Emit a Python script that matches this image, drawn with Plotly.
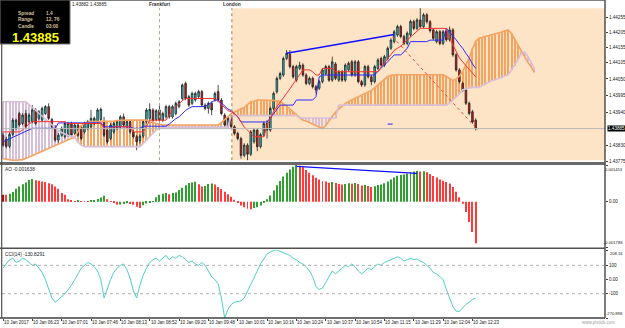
import plotly.graph_objects as go

# ---------------- data ----------------
open_ = [1.43863, 1.43850, 1.43826, 1.43866, 1.43886, 1.43935, 1.43902, 1.43935, 1.43908, 1.43908,
         1.43947, 1.43919, 1.43913, 1.43935, 1.43958, 1.43915, 1.43891, 1.43847, 1.43863, 1.43858,
         1.43863, 1.43902, 1.43869, 1.43897, 1.43891, 1.43874, 1.43886, 1.43891, 1.43902, 1.43908,
         1.43915, 1.43908, 1.43880, 1.43852, 1.43874, 1.43886, 1.43891, 1.43924, 1.43891, 1.43908,
         1.43874, 1.43858, 1.43845, 1.43860, 1.43908, 1.43919, 1.43947, 1.43915, 1.43947, 1.43913,
         1.43924, 1.43958, 1.43924, 1.43935, 1.43958, 1.43985, 1.44035, 1.43991, 1.43969, 1.43980,
         1.43991, 1.44008, 1.43963, 1.43952, 1.43969, 1.43980, 1.44008, 1.43980, 1.43930, 1.43891,
         1.43924, 1.43891, 1.43869, 1.43852, 1.43796, 1.43830, 1.43800, 1.43841, 1.43880, 1.43825,
         1.43863, 1.43902, 1.43880, 1.43952, 1.44007, 1.44052, 1.44063, 1.44118, 1.44132, 1.44091,
         1.44046, 1.44085, 1.44096, 1.44063, 1.44035, 1.44052, 1.44024, 1.44019, 1.44041, 1.44068,
         1.44091, 1.44046, 1.44100, 1.44046, 1.44074, 1.44046, 1.44080, 1.44107, 1.44063, 1.44107,
         1.44041, 1.44030, 1.44091, 1.44057, 1.44041, 1.44085, 1.44118, 1.44096, 1.44118, 1.44152,
         1.44174, 1.44196, 1.44224, 1.44191, 1.44168, 1.44196, 1.44241, 1.44218, 1.44246, 1.44224,
         1.44263, 1.44240, 1.44213, 1.44174, 1.44207, 1.44168, 1.44207, 1.44180, 1.44213, 1.44130,
         1.44080, 1.44035, 1.44013, 1.43969, 1.43941, 1.43913]
high_ = [1.43872, 1.43858, 1.43872, 1.43920, 1.43918, 1.43941, 1.43936, 1.43947, 1.43936, 1.43963,
         1.43953, 1.43947, 1.43958, 1.43963, 1.43969, 1.43921, 1.43897, 1.43870, 1.43892, 1.43908,
         1.43908, 1.43908, 1.43903, 1.43903, 1.43897, 1.43908, 1.43914, 1.43947, 1.43925, 1.43953,
         1.43955, 1.43924, 1.43886, 1.43903, 1.43908, 1.43914, 1.43930, 1.43935, 1.43914, 1.43914,
         1.43880, 1.43864, 1.43866, 1.43914, 1.43953, 1.43969, 1.43953, 1.43950, 1.43969, 1.43941,
         1.43964, 1.43964, 1.43964, 1.43975, 1.43980, 1.44035, 1.44041, 1.43997, 1.44008, 1.44008,
         1.44014, 1.44014, 1.43969, 1.43975, 1.43975, 1.44008, 1.44030, 1.43986, 1.43936, 1.43925,
         1.43930, 1.43897, 1.43875, 1.43858, 1.43836, 1.43836, 1.43880, 1.43886, 1.43886, 1.43871,
         1.43908, 1.43913, 1.43958, 1.44008, 1.44058, 1.44074, 1.44124, 1.44146, 1.44146, 1.44097,
         1.44097, 1.44107, 1.44102, 1.44069, 1.44058, 1.44058, 1.44030, 1.44047, 1.44086, 1.44097,
         1.44097, 1.44124, 1.44106, 1.44080, 1.44080, 1.44102, 1.44108, 1.44113, 1.44113, 1.44113,
         1.44047, 1.44097, 1.44097, 1.44063, 1.44097, 1.44119, 1.44124, 1.44130, 1.44158, 1.44185,
         1.44213, 1.44230, 1.44230, 1.44197, 1.44208, 1.44247, 1.44247, 1.44252, 1.44285, 1.44269,
         1.44269, 1.44246, 1.44219, 1.44213, 1.44213, 1.44213, 1.44213, 1.44224, 1.44219, 1.44136,
         1.44086, 1.44041, 1.44019, 1.43975, 1.43947, 1.43919]
low_ = [1.43824, 1.43819, 1.43820, 1.43860, 1.43880, 1.43891, 1.43896, 1.43885, 1.43902, 1.43902,
        1.43896, 1.43913, 1.43908, 1.43930, 1.43913, 1.43885, 1.43841, 1.43838, 1.43858, 1.43852,
        1.43858, 1.43858, 1.43863, 1.43858, 1.43846, 1.43868, 1.43880, 1.43885, 1.43896, 1.43902,
        1.43909, 1.43857, 1.43835, 1.43846, 1.43868, 1.43880, 1.43885, 1.43891, 1.43885, 1.43868,
        1.43852, 1.43813, 1.43835, 1.43854, 1.43902, 1.43913, 1.43907, 1.43909, 1.43907, 1.43907,
        1.43918, 1.43918, 1.43918, 1.43929, 1.43952, 1.43979, 1.43979, 1.43957, 1.43963, 1.43974,
        1.43985, 1.43957, 1.43946, 1.43935, 1.43930, 1.43974, 1.43974, 1.43929, 1.43891, 1.43885,
        1.43885, 1.43863, 1.43846, 1.43785, 1.43790, 1.43780, 1.43794, 1.43835, 1.43810, 1.43819,
        1.43857, 1.43852, 1.43874, 1.43946, 1.44001, 1.44046, 1.44057, 1.44112, 1.44085, 1.44051,
        1.44040, 1.44079, 1.44057, 1.44029, 1.44029, 1.44018, 1.44002, 1.44013, 1.44035, 1.44062,
        1.44040, 1.44040, 1.44046, 1.44040, 1.44040, 1.44040, 1.44074, 1.44057, 1.44057, 1.44035,
        1.44024, 1.44024, 1.44051, 1.44029, 1.44035, 1.44079, 1.44090, 1.44090, 1.44112, 1.44146,
        1.44168, 1.44190, 1.44185, 1.44162, 1.44162, 1.44190, 1.44212, 1.44212, 1.44218, 1.44218,
        1.44234, 1.44204, 1.44179, 1.44168, 1.44162, 1.44162, 1.44174, 1.44174, 1.44124, 1.44074,
        1.44035, 1.44007, 1.43963, 1.43929, 1.43901, 1.43879]
close_ = [1.43830, 1.43826, 1.43866, 1.43913, 1.43913, 1.43897, 1.43930, 1.43891, 1.43930, 1.43947,
          1.43902, 1.43941, 1.43952, 1.43958, 1.43919, 1.43891, 1.43847, 1.43863, 1.43886, 1.43902,
          1.43902, 1.43863, 1.43897, 1.43863, 1.43852, 1.43902, 1.43908, 1.43919, 1.43919, 1.43947,
          1.43949, 1.43863, 1.43841, 1.43897, 1.43902, 1.43908, 1.43924, 1.43897, 1.43908, 1.43874,
          1.43858, 1.43841, 1.43860, 1.43908, 1.43947, 1.43949, 1.43913, 1.43944, 1.43913, 1.43935,
          1.43958, 1.43924, 1.43958, 1.43969, 1.43974, 1.44030, 1.43985, 1.43963, 1.44002, 1.44002,
          1.44008, 1.43963, 1.43952, 1.43969, 1.43947, 1.44002, 1.43980, 1.43935, 1.43897, 1.43919,
          1.43891, 1.43869, 1.43852, 1.43796, 1.43830, 1.43800, 1.43874, 1.43880, 1.43825, 1.43865,
          1.43902, 1.43880, 1.43952, 1.44002, 1.44052, 1.44068, 1.44118, 1.44135, 1.44091, 1.44057,
          1.44091, 1.44096, 1.44063, 1.44035, 1.44052, 1.44024, 1.44013, 1.44041, 1.44080, 1.44091,
          1.44046, 1.44107, 1.44052, 1.44074, 1.44046, 1.44096, 1.44102, 1.44063, 1.44107, 1.44041,
          1.44030, 1.44091, 1.44057, 1.44041, 1.44091, 1.44113, 1.44096, 1.44124, 1.44152, 1.44179,
          1.44207, 1.44224, 1.44191, 1.44168, 1.44202, 1.44241, 1.44218, 1.44246, 1.44224, 1.44263,
          1.44240, 1.44210, 1.44185, 1.44207, 1.44168, 1.44207, 1.44180, 1.44213, 1.44130, 1.44080,
          1.44041, 1.44013, 1.43969, 1.43935, 1.43907, 1.43885]

tenkan = [1.43874, 1.43874, 1.43874, 1.43874, 1.43874, 1.43874, 1.43880, 1.43891, 1.43900,
          1.43908, 1.43908, 1.43908, 1.43908, 1.43908, 1.43908, 1.43908, 1.43908, 1.43908, 1.43908, 1.43908,
          1.43902, 1.43902, 1.43902, 1.43902, 1.43902, 1.43902, 1.43902, 1.43902, 1.43902, 1.43902, 1.43902,
          1.43886, 1.43886, 1.43886, 1.43891, 1.43891, 1.43891, 1.43891, 1.43891, 1.43891,
          1.43874, 1.43874, 1.43874, 1.43874, 1.43890,
          1.43913, 1.43913, 1.43913, 1.43913, 1.43913, 1.43913,
          1.43930, 1.43947, 1.43958, 1.43969, 1.43978,
          1.43985, 1.43985, 1.43985, 1.43985, 1.43985, 1.43985, 1.43985, 1.43985, 1.43985, 1.43985,
          1.43975, 1.43965, 1.43955, 1.43945, 1.43941, 1.43935, 1.43925, 1.43905, 1.43890, 1.43880, 1.43870,
          1.43858, 1.43858, 1.43858, 1.43858,
          1.43896, 1.43920, 1.43941, 1.43958, 1.43974, 1.43988, 1.44002, 1.44017, 1.44032, 1.44046, 1.44063,
          1.44080, 1.44080, 1.44080, 1.44074, 1.44063, 1.44063,
          1.44085, 1.44085, 1.44085, 1.44085,
          1.44074, 1.44074, 1.44074, 1.44074, 1.44074, 1.44074, 1.44074, 1.44074, 1.44074, 1.44074,
          1.44074, 1.44074, 1.44074, 1.44074,
          1.44090, 1.44102, 1.44118, 1.44130, 1.44145, 1.44152, 1.44158, 1.44170, 1.44180, 1.44190,
          1.44200, 1.44210,
          1.44218, 1.44218, 1.44218, 1.44218, 1.44218, 1.44218, 1.44218, 1.44218, 1.44218,
          1.44185, 1.44163, 1.44140, 1.44120, 1.44107, 1.44095, 1.44082, 1.44070, 1.44057]
kijun = [1.43841, 1.43846, 1.43852, 1.43858, 1.43863, 1.43868, 1.43872, 1.43877, 1.43881, 1.43886,
         1.43886, 1.43886, 1.43886, 1.43886, 1.43886, 1.43886, 1.43886,
         1.43904, 1.43904, 1.43904, 1.43904, 1.43904, 1.43904, 1.43904, 1.43904, 1.43904, 1.43904,
         1.43904, 1.43904, 1.43904, 1.43904,
         1.43891, 1.43891, 1.43891, 1.43891, 1.43891, 1.43891, 1.43891, 1.43891, 1.43891,
         1.43886, 1.43886, 1.43886,
         1.43893, 1.43893, 1.43893, 1.43893, 1.43893, 1.43893, 1.43893, 1.43893,
         1.43900, 1.43910, 1.43918, 1.43924, 1.43935, 1.43945, 1.43952,
         1.43958, 1.43958, 1.43958, 1.43958, 1.43958,
         1.43965, 1.43972, 1.43980, 1.43980,
         1.43970, 1.43958, 1.43950, 1.43945, 1.43935, 1.43924,
         1.43907, 1.43907, 1.43907, 1.43907, 1.43907, 1.43907, 1.43907, 1.43907, 1.43907,
         1.43920, 1.43935, 1.43950,
         1.43963, 1.43963, 1.43963, 1.43963, 1.43963,
         1.43980, 1.43980, 1.43980, 1.43980, 1.43980, 1.43980,
         1.43991, 1.44057,
         1.44063, 1.44063, 1.44063, 1.44063, 1.44063, 1.44063, 1.44063, 1.44063, 1.44063, 1.44063,
         1.44063, 1.44063, 1.44063, 1.44063, 1.44063, 1.44063, 1.44063,
         1.44075, 1.44085, 1.44095, 1.44105, 1.44118,
         1.44130, 1.44130, 1.44130, 1.44140, 1.44152,
         1.44174, 1.44174, 1.44174, 1.44174, 1.44174, 1.44174,
         1.44179, 1.44179, 1.44179, 1.44179, 1.44179,
         1.44218, 1.44205, 1.44195, 1.44180, 1.44165, 1.44152, 1.44135, 1.44120, 1.44100, 1.44085]
span_a = [1.43785, 1.43783, 1.43780, 1.43780, 1.43780, 1.43780,
          1.43782, 1.43786, 1.43790, 1.43795, 1.43800, 1.43805, 1.43810, 1.43815, 1.43820, 1.43825,
          1.43830, 1.43835, 1.43840, 1.43844, 1.43848, 1.43852, 1.43855,
          1.43875, 1.43895,
          1.43902, 1.43905, 1.43908, 1.43908, 1.43908, 1.43908, 1.43908, 1.43908, 1.43908, 1.43910, 1.43912,
          1.43913, 1.43913, 1.43913, 1.43913, 1.43913, 1.43913, 1.43913, 1.43913, 1.43913,
          1.43908, 1.43905, 1.43902, 1.43900,
          1.43897, 1.43897, 1.43897, 1.43897, 1.43897, 1.43897, 1.43897, 1.43897, 1.43897,
          1.43897, 1.43897, 1.43897, 1.43897, 1.43897, 1.43897, 1.43897, 1.43897, 1.43897,
          1.43905, 1.43915, 1.43925, 1.43935,
          1.43940, 1.43945, 1.43950, 1.43955, 1.43965, 1.43974,
          1.43976, 1.43980, 1.43980, 1.43980, 1.43980, 1.43980, 1.43980,
          1.43978, 1.43975, 1.43968, 1.43960,
          1.43950, 1.43940, 1.43930, 1.43920, 1.43913, 1.43910, 1.43905, 1.43900, 1.43893, 1.43888, 1.43885,
          1.43895, 1.43910, 1.43925, 1.43940, 1.43950, 1.43960, 1.43968,
          1.43975, 1.43980, 1.43985, 1.43990, 1.43995, 1.44000, 1.44005, 1.44012, 1.44020, 1.44030,
          1.44040, 1.44050, 1.44058, 1.44062,
          1.44064, 1.44064, 1.44064, 1.44064, 1.44064, 1.44064, 1.44064, 1.44064,
          1.44064, 1.44064, 1.44064, 1.44064, 1.44064, 1.44064, 1.44064, 1.44064,
          1.44058, 1.44050, 1.44045, 1.44050, 1.44060,
          1.44075, 1.44095, 1.44120, 1.44150, 1.44175, 1.44185, 1.44188, 1.44190, 1.44192, 1.44195,
          1.44198, 1.44202, 1.44206, 1.44210, 1.44213,
          1.44200, 1.44180, 1.44160, 1.44140, 1.44125, 1.44105, 1.44090, 1.44072]
span_b = [1.43974, 1.43974, 1.43974, 1.43974, 1.43974, 1.43974, 1.43974, 1.43974,
          1.43965, 1.43955, 1.43945, 1.43935, 1.43925, 1.43915, 1.43905, 1.43895, 1.43885, 1.43878,
          1.43872, 1.43866, 1.43862, 1.43860, 1.43858,
          1.43840, 1.43830,
          1.43825, 1.43825, 1.43825, 1.43825, 1.43825, 1.43825, 1.43825, 1.43825, 1.43825,
          1.43825, 1.43825, 1.43825, 1.43825, 1.43825, 1.43825, 1.43825, 1.43825, 1.43825,
          1.43835, 1.43845, 1.43858, 1.43870, 1.43880, 1.43886,
          1.43890, 1.43890, 1.43890, 1.43890, 1.43890, 1.43890, 1.43890, 1.43890, 1.43890, 1.43890,
          1.43890, 1.43890, 1.43890, 1.43890, 1.43890, 1.43890, 1.43890, 1.43890, 1.43890, 1.43890, 1.43890,
          1.43928, 1.43928, 1.43928, 1.43928, 1.43928, 1.43928, 1.43928, 1.43928, 1.43928, 1.43928,
          1.43928, 1.43928, 1.43928, 1.43928, 1.43928, 1.43928, 1.43928, 1.43928, 1.43928, 1.43928, 1.43928,
          1.43920, 1.43920, 1.43920, 1.43920, 1.43920, 1.43920, 1.43920, 1.43920, 1.43920, 1.43920,
          1.43920, 1.43920,
          1.43963, 1.43963, 1.43963, 1.43963, 1.43963, 1.43963, 1.43963, 1.43963, 1.43963, 1.43963,
          1.43963, 1.43963, 1.43963, 1.43963, 1.43963, 1.43963, 1.43963, 1.43963, 1.43963, 1.43963,
          1.43963, 1.43963, 1.43963, 1.43963, 1.43963, 1.43963, 1.43963, 1.43963, 1.43963, 1.43963,
          1.43963, 1.43963, 1.43963, 1.43963,
          1.43970, 1.43980, 1.43990, 1.44000, 1.44014,
          1.44018, 1.44020, 1.44022, 1.44022, 1.44022,
          1.44028, 1.44034, 1.44040, 1.44044, 1.44047,
          1.44052, 1.44056, 1.44060, 1.44064,
          1.44080, 1.44095, 1.44115, 1.44136, 1.44140, 1.44125, 1.44105, 1.44085]

ao = [0.00028, 0.00028, 0.00032, 0.00039, 0.00051, 0.00060, 0.00069, 0.00076, 0.00086, 0.00090,
      0.00085, 0.00083, 0.00080, 0.00078, 0.00073, 0.00069, 0.00060, 0.00051, 0.00035, 0.00028,
      0.00010, 0.00004, 0.00001, 0.00004, 0.00003, 0.00002, 0.00001, 0.00004, 0.00007, 0.00011,
      0.00017, 0.00024, 0.00010, 0.00001, -0.00005, -0.00012, -0.00011, -0.00009, -0.00006, -0.00009,
      -0.00012, -0.00020, -0.00025, -0.00014, -0.00007, -0.00004, 0.00003, 0.00018, 0.00028, 0.00032,
      0.00035, 0.00030, 0.00035, 0.00037, 0.00046, 0.00055, 0.00065, 0.00074, 0.00076, 0.00079,
      0.00069, 0.00060, 0.00062, 0.00070, 0.00072, 0.00068, 0.00058, 0.00050, 0.00040, 0.00030,
      0.00020, 0.00008, -0.00004, -0.00015, -0.00022, -0.00028, -0.00030, -0.00025, -0.00022, -0.00015,
      -0.00005, 0.00010, 0.00025, 0.00045, 0.00065, 0.00082, 0.00100, 0.00115, 0.00128, 0.00138,
      0.00145, 0.00142, 0.00136, 0.00126, 0.00115, 0.00105, 0.00095, 0.00088, 0.00082, 0.00080,
      0.00075, 0.00078, 0.00074, 0.00070, 0.00068, 0.00070, 0.00073, 0.00071, 0.00074, 0.00070,
      0.00064, 0.00066, 0.00062, 0.00058, 0.00061, 0.00066, 0.00068, 0.00073, 0.00080, 0.00088,
      0.00096, 0.00103, 0.00106, 0.00108, 0.00112, 0.00118, 0.00120, 0.00122, 0.00120, 0.00121,
      0.00117, 0.00110, 0.00102, 0.00096, 0.00088, 0.00083, 0.00078, 0.00072, 0.00058, 0.00040,
      0.00018, -0.00008, -0.00040, -0.00080, -0.00120, -0.001638]
cci = [80, 110, 140, 150, 120, 130, 150, 140, 120, 100, 110, 80, 50,
       0, -60, -130, -160, -140, -120, -100, -70, -40, 0, 40, 80, 100, 120, 110, 90, 60,
       0, -130, -60, 0, 50, 80, 100, 110, 70, 10, -80, -130, -40, 30, 80, 120,
       140, 150, 130, 150, 170, 140, 160, 150, 170, 160, 140, 120, 130, 110, 100, 120, 100, 60, 20, 0,
       -30, -130, -270.898, -210, -175, -160, -155, -150, -130, -85, -40, 10, 60, 110, 150, 180, 195, 205, 208.16,
       200, 190, 180, 170, 150, 140, 120, 110, 90, 60, 20, -50, -70, -60, -20, 20, 60, 40, 60, 80,
       100, 90, 110, 90, 60, 40, 60, 80, 70, 90, 110, 100, 120, 130, 140, 150, 160, 150, 130, 140,
       150, 140, 145, 130, 120, 100, 80, 50, 40, 20, 0, -70, -135, -190, -224, -224, -200, -175, -160, -140,
       -130.8291]

time_labels = ["10 Jan 2017", "10 Jan 06:23", "10 Jan 07:01", "10 Jan 07:46", "10 Jan 08:13",
               "10 Jan 08:52", "10 Jan 09:20", "10 Jan 09:48", "10 Jan 10:01", "10 Jan 10:16",
               "10 Jan 10:24", "10 Jan 10:37", "10 Jan 10:54", "10 Jan 11:15", "10 Jan 11:29",
               "10 Jan 12:04", "10 Jan 12:23"]
time_label_bar = [0, 9, 18, 27, 36, 45, 54, 63, 72, 81, 90, 99, 108, 117, 126, 135, 144]

price_ticks = [1.44255, 1.44205, 1.44155, 1.44105, 1.44050, 1.43995, 1.43940, 1.43830, 1.43775]
ao_max, ao_min = 0.001453, -0.001788
cci_max, cci_min = 208.16, -270.898
cci_levels = [100, 0, -100]
cci_level_text = ["100", "0.00", "-100"]

bid = 1.43885
prev_bid = 1.43882
frankfurt_bar = 48
london_bar = 70.2
trend_up_bar = [87, 120]
trend_up_price = [1.44135, 1.44198]
trend_dn_bar = [119.5, 145.7]
trend_dn_price = [1.44190, 1.43880]
mark_bar = [118, 119.5]
mark_price = [1.43900, 1.43900]
ao_trend_bar = [90, 127]
ao_trend_val = [0.00140, 0.00112]

# ---------------- layout geometry ----------------
W, H = 625, 328
ML, MR, MT, MB = 2, 20, 0, 10
PW = W - ML - MR
PH = H - MT - MB


def pxx(x):
    return (x - ML) / PW


def pyy(y):
    return (PH + MT - y) / PH


XR = [-0.307, 184.66]
FONT = "Liberation Sans, Arial, sans-serif"

n = len(close_)
idx = list(range(n))
nc = min(len(span_a), len(span_b))
cidx = list(range(nc))
cl_base = [min(span_a[i], span_b[i]) for i in cidx]
cl_h = [abs(span_a[i] - span_b[i]) for i in cidx]
cl_col = ['#f4a460' if span_a[i] >= span_b[i] else '#d8bfd8' for i in cidx]

ao_col = ['#b00000'] + ['#2f9f2f' if ao[i] > ao[i - 1] else '#ff3a3a' for i in range(1, len(ao))]

fig = go.Figure()

fig.add_trace(go.Bar(x=cidx, y=cl_h, base=cl_base, marker=dict(color=cl_col, line=dict(width=0)),
                     width=0.32, xaxis='x', yaxis='y', hoverinfo='skip'))
fig.add_trace(go.Scatter(x=cidx, y=span_a[:nc], mode='lines', line=dict(color='#f4a460', width=1.6),
                         xaxis='x', yaxis='y'))
fig.add_trace(go.Scatter(x=cidx, y=span_b[:nc], mode='lines', line=dict(color='#d8bfd8', width=1.6),
                         xaxis='x', yaxis='y'))
fig.add_trace(go.Scatter(x=idx[:len(kijun)], y=kijun, mode='lines', line=dict(color='#2a2aff', width=1),
                         xaxis='x', yaxis='y'))
fig.add_trace(go.Scatter(x=idx[:len(tenkan)], y=tenkan, mode='lines', line=dict(color='#ff3030', width=1),
                         xaxis='x', yaxis='y'))
fig.add_trace(go.Candlestick(x=idx, open=open_, high=high_, low=low_, close=close_,
                             increasing=dict(line=dict(color='#202020', width=0.8), fillcolor='#20c8c8'),
                             decreasing=dict(line=dict(color='#202020', width=0.8), fillcolor='#e01818'),
                             whiskerwidth=0, xaxis='x', yaxis='y'))
fig.add_trace(go.Scatter(x=trend_up_bar, y=trend_up_price, mode='lines', line=dict(color='#1010ff', width=1.5),
                         xaxis='x', yaxis='y'))
fig.add_trace(go.Scatter(x=trend_dn_bar, y=trend_dn_price, mode='lines',
                         line=dict(color='#ff4040', width=1, dash='dot'), xaxis='x', yaxis='y'))
fig.add_trace(go.Scatter(x=mark_bar, y=mark_price, mode='lines', line=dict(color='#2020ff', width=1),
                         xaxis='x', yaxis='y'))

fig.add_trace(go.Bar(x=idx[:len(ao)], y=ao, marker=dict(color=ao_col, line=dict(width=0)), width=0.3,
                     xaxis='x', yaxis='y2'))
fig.add_trace(go.Scatter(x=ao_trend_bar, y=ao_trend_val, mode='lines', line=dict(color='#1010ff', width=1.3),
                         xaxis='x', yaxis='y2'))
fig.add_trace(go.Scatter(x=idx[:len(cci)], y=cci, mode='lines', line=dict(color='#4fd0c4', width=1),
                         xaxis='x', yaxis='y3'))

shapes = []
sess_low = min(low_[int(london_bar):])
sess_high = max(high_[int(london_bar):])
shapes.append(dict(type='rect', xref='x', yref='y', x0=london_bar, x1=XR[1], y0=sess_low, y1=sess_high,
                   fillcolor='#fde4c6', line=dict(width=0), layer='below'))
shapes.append(dict(type='line', xref='x', yref='y', x0=frankfurt_bar, x1=frankfurt_bar, y0=sess_low, y1=sess_high,
                   line=dict(color='#a8a888', width=1, dash='dot')))
shapes.append(dict(type='line', xref='x', yref='y', x0=london_bar, x1=london_bar, y0=sess_low, y1=sess_high,
                   line=dict(color='#a88040', width=1, dash='dot')))
shapes.append(dict(type='line', xref='paper', yref='y', x0=0, x1=1, y0=bid, y1=bid,
                   line=dict(color='#b8b8b8', width=1)))
for lv in (100, -100):
    shapes.append(dict(type='line', xref='paper', yref='y3', x0=0, x1=1, y0=lv, y1=lv,
                       line=dict(color='#b0b0b0', width=1, dash='dot')))
shapes.append(dict(type='line', xref='paper', yref='paper', x0=0, x1=1, y0=pyy(0.5), y1=pyy(0.5),
                   line=dict(color='#808080', width=1)))
shapes.append(dict(type='line', xref='paper', yref='paper', x0=pxx(0), x1=1, y0=pyy(163.5), y1=pyy(163.5),
                   line=dict(color='#6a6a6a', width=3)))
shapes.append(dict(type='line', xref='paper', yref='paper', x0=pxx(0), x1=1, y0=pyy(248.3), y1=pyy(248.3),
                   line=dict(color='#505050', width=1.6)))
shapes.append(dict(type='line', xref='paper', yref='paper', x0=pxx(0), x1=1, y0=pyy(318), y1=pyy(318),
                   line=dict(color='#404040', width=1.5)))
shapes.append(dict(type='line', xref='paper', yref='paper', x0=pxx(1.7), x1=pxx(1.7), y0=0, y1=1,
                   line=dict(color='#505050', width=1.2)))
shapes.append(dict(type='line', xref='paper', yref='paper', x0=1, x1=1, y0=0, y1=1,
                   line=dict(color='#505050', width=1.5)))
shapes.append(dict(type='rect', xref='paper', yref='paper', x0=pxx(0), x1=pxx(70), y0=pyy(44), y1=pyy(0),
                   fillcolor='#000000', line=dict(color='#707070', width=1)))

ann = []
tan = '#d8c09a'
for lab, yy, val in (("Spread", 13.8, "1.4"), ("Range", 20, "12, 76"), ("Candle", 26.2, "03:00")):
    ann.append(dict(text="<b>%s</b>" % lab, xref='paper', yref='paper', x=pxx(16), y=pyy(yy), xanchor='left',
                    yanchor='middle', showarrow=False, font=dict(family=FONT, size=4.8, color=tan)))
    ann.append(dict(text="<b>%s</b>" % val, xref='paper', yref='paper', x=pxx(43.5), y=pyy(yy), xanchor='left',
                    yanchor='middle', showarrow=False, font=dict(family=FONT, size=4.8, color=tan)))
ann.append(dict(text="<b>%.5f</b>" % bid, xref='paper', yref='paper', x=pxx(9.5), y=pyy(37.6), xanchor='left',
                yanchor='middle', showarrow=False, font=dict(family=FONT, size=13, color='#ffff00')))
ann.append(dict(text="%.5f %.5f" % (prev_bid, bid), xref='paper', yref='paper', x=pxx(70), y=pyy(5),
                xanchor='left', yanchor='middle', showarrow=False, font=dict(family=FONT, size=4.6, color='#202020')))
ann.append(dict(text="<b>Frankfurt</b>", xref='x', yref='paper', x=frankfurt_bar, y=pyy(5), xanchor='center',
                yanchor='middle', showarrow=False, font=dict(family=FONT, size=4.8, color='#303030')))
ann.append(dict(text="<b>London</b>", xref='x', yref='paper', x=london_bar, y=pyy(5), xanchor='center',
                yanchor='middle', showarrow=False, font=dict(family=FONT, size=4.8, color='#303030')))
ann.append(dict(text="AO %.6f" % ao[-1], xref='paper', yref='paper', x=pxx(3), y=pyy(169), xanchor='left',
                yanchor='middle', showarrow=False, font=dict(family=FONT, size=4.8, color='#202020')))
ann.append(dict(text="CCI(14) %.4f" % cci[-1], xref='paper', yref='paper', x=pxx(3), y=pyy(254.5),
                xanchor='left', yanchor='middle', showarrow=False, font=dict(family=FONT, size=4.8, color='#202020')))
ann.append(dict(text="%.5f" % bid, xref='paper', yref='y', x=1.004, y=bid, xanchor='left', yanchor='middle',
                showarrow=False, bgcolor='#000000', borderpad=0,
                font=dict(family=FONT, size=4.6, color='#ffffff')))
# edge labels of the indicator windows, kept inside the picture
lab_x = pxx(624.6)
for txt, yy, anc in (("%.6f" % ao_max, 164.8, 'top'), ("%.6f" % ao_min, 246.5, 'bottom'),
                     ("%.2f" % cci_max, 248.8, 'top'), ("%.3f" % cci_min, 317.8, 'bottom')):
    ann.append(dict(text=txt, xref='paper', yref='paper', x=lab_x, y=pyy(yy), xanchor='right', yanchor=anc,
                    showarrow=False, font=dict(family=FONT, size=4.1, color='#202020')))
for b, lab in zip(time_label_bar, time_labels):
    ann.append(dict(text=lab, xref='paper', yref='paper', x=pxx(3 + 3.26 * b - 1.2), y=pyy(322.5),
                    xanchor='left', yanchor='middle',
                    showarrow=False, font=dict(family=FONT, size=4.5, color='#202020')))
ann.append(dict(text="www.pixtick.com", xref='paper', yref='paper', x=pxx(580), y=pyy(322.5), xanchor='left',
                yanchor='middle', showarrow=False, font=dict(family=FONT, size=4.5, color='#a0a0a0')))

axfont = dict(family=FONT, size=4.6, color='#202020')
fig.update_layout(
    width=W, height=H, margin=dict(l=ML, r=MR, t=MT, b=MB),
    paper_bgcolor='#ffffff', plot_bgcolor='#ffffff', showlegend=False, barmode='overlay',
    xaxis=dict(range=XR, anchor='y3', showgrid=False, zeroline=False, showline=False,
               tickvals=time_label_bar, ticks='outside', ticklen=2, tickcolor='#404040',
               showticklabels=False, rangeslider=dict(visible=False), fixedrange=True),
    yaxis=dict(domain=[pyy(162), pyy(1)], range=[1.43774, 1.44309], side='right', anchor='x',
               tickvals=price_ticks, ticktext=["%.5f" % v for v in price_ticks], ticks='outside', ticklen=2,
               tickcolor='#404040', tickfont=axfont, showgrid=False, zeroline=False, showline=False),
    yaxis2=dict(domain=[pyy(247), pyy(165)], range=[ao_min, ao_max], side='right', anchor='x',
                tickvals=[ao_max, 0.0, ao_min], ticktext=["", "0.00", ""], ticks='outside', ticklen=2,
                tickcolor='#404040', tickfont=axfont, showgrid=False, zeroline=False, showline=False),
    yaxis3=dict(domain=[pyy(318), pyy(250)], range=[cci_min, cci_max], side='right', anchor='x',
                tickvals=[cci_max] + cci_levels + [cci_min], ticktext=[""] + cci_level_text + [""],
                ticks='outside', ticklen=2, tickcolor='#404040',
                tickfont=axfont, showgrid=False, zeroline=False, showline=False),
    shapes=shapes, annotations=ann,
)

fig.write_html("out.html")
